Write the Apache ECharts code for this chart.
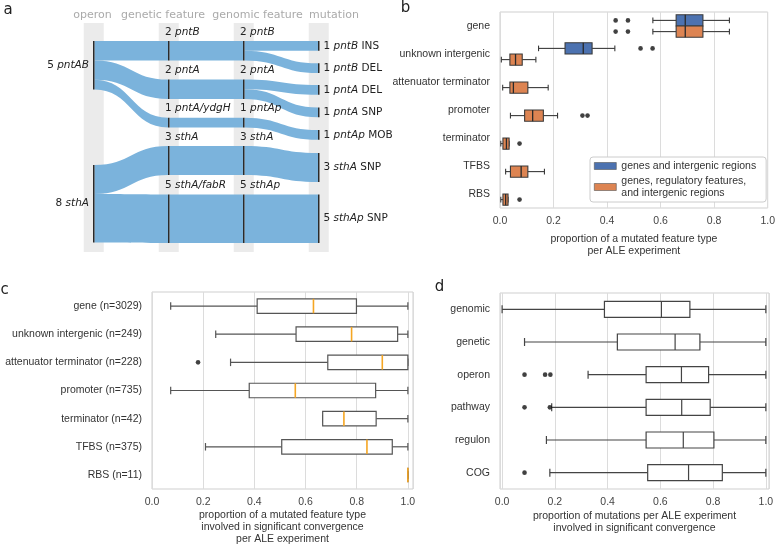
<!DOCTYPE html>
<html><head><meta charset="utf-8">
<script src="https://cdn.jsdelivr.net/npm/echarts@6/dist/echarts.min.js"></script>
<style>html,body{margin:0;padding:0;background:#fff}#main{width:778px;height:551px}</style>
</head><body><div id="main"></div>
<script>
// ================= DATA =================
// Panel a (flow diagram)
const sankeyStages = ['operon', 'genetic feature', 'genomic feature', 'mutation'];
const operonNames = ['pntAB', 'sthA'];
const operonCounts = [5, 8];
const geneticNames = ['pntB', 'pntA', 'pntA/ydgH', 'sthA', 'sthA/fabR'];
const geneticCounts = [2, 2, 1, 3, 5];
const genomicNames = ['pntB', 'pntA', 'pntAp', 'sthA', 'sthAp'];
const genomicCounts = [2, 2, 1, 3, 5];
const mutationGenes = ['pntB', 'pntB', 'pntA', 'pntA', 'pntAp', 'sthA', 'sthAp'];
const mutationTypes = ['INS', 'DEL', 'DEL', 'SNP', 'MOB', 'SNP', 'SNP'];
const mutationCounts = [1, 1, 1, 1, 1, 3, 5];
// links: [sourceIndex, targetIndex, value]
const operonToGenetic = [[0, 0, 2], [0, 1, 2], [0, 2, 1], [1, 3, 3], [1, 4, 5]];
const geneticToGenomic = [[0, 0, 2], [1, 1, 2], [2, 2, 1], [3, 3, 3], [4, 4, 5]];
const genomicToMutation = [[0, 0, 1], [0, 1, 1], [1, 2, 1], [1, 3, 1], [2, 4, 1], [3, 5, 3], [4, 6, 5]];

// Panel b
const bCategories = ['gene', 'unknown intergenic', 'attenuator terminator', 'promoter', 'terminator', 'TFBS', 'RBS'];
const bSeriesNames = ['genes and intergenic regions', 'genes, regulatory features,\nand intergenic regions'];
// [min, q1, median, q3, max]; null = no box
const bBoxesIntergenic = [[0.571, 0.658, 0.692, 0.758, 0.857], [0.144, 0.243, 0.311, 0.344, 0.429], null, null, null, null, null];
const bBoxesRegulatory = [[0.571, 0.658, 0.692, 0.758, 0.857], [0.005, 0.037, 0.058, 0.083, 0.134], [0.010, 0.037, 0.050, 0.104, 0.180],
  [0.039, 0.092, 0.122, 0.162, 0.215], [0.003, 0.011, 0.024, 0.034, 0.034], [0.021, 0.039, 0.079, 0.104, 0.166], [0.003, 0.011, 0.021, 0.030, 0.030]];
// outliers: [value, categoryIndex]
const bOutliersIntergenic = [[0.432, 0], [0.478, 0], [0.525, 1], [0.570, 1]];
const bOutliersRegulatory = [[0.432, 0], [0.478, 0], [0.308, 3], [0.327, 3], [0.073, 4], [0.073, 6]];
const bAxisName = 'proportion of a mutated feature type\nper ALE experiment';

// Panel c
const cCategories = ['gene (n=3029)', 'unknown intergenic (n=249)', 'attenuator terminator (n=228)', 'promoter (n=735)', 'terminator (n=42)', 'TFBS (n=375)', 'RBS (n=11)'];
const cBoxes = [[0.073, 0.411, 0.631, 0.799, 1.0], [0.249, 0.563, 0.780, 0.960, 1.0], [0.307, 0.687, 0.900, 1.0, 1.0],
  [0.073, 0.380, 0.560, 0.874, 1.0], [0.667, 0.667, 0.750, 0.876, 1.0], [0.209, 0.507, 0.840, 0.939, 1.0], [1.0, 1.0, 1.0, 1.0, 1.0]];
const cOutliers = [[0.180, 2]];
const cAxisName = 'proportion of a mutated feature type\ninvolved in significant convergence\nper ALE experiment';

// Panel d
const dCategories = ['genomic', 'genetic', 'operon', 'pathway', 'regulon', 'COG'];
const dBoxes = [[0.0, 0.388, 0.604, 0.712, 1.0], [0.085, 0.437, 0.656, 0.750, 1.0], [0.326, 0.546, 0.680, 0.783, 1.0],
  [0.188, 0.546, 0.681, 0.789, 1.0], [0.168, 0.546, 0.687, 0.803, 1.0], [0.181, 0.552, 0.707, 0.835, 1.0]];
const dOutliers = [[0.085, 2], [0.163, 2], [0.183, 2], [0.085, 3], [0.181, 3], [0.085, 5]];
const dAxisName = 'proportion of mutations per ALE experiment\ninvolved in significant convergence';

const xTickValues = [0, 0.2, 0.4, 0.6, 0.8, 1.0];

// ================= LAYOUT / STYLE =================
const SANS = '"Liberation Sans", Arial, sans-serif';
const DEJA = '"DejaVu Sans", sans-serif';
const BLUE = '#4c72b0', ORANGE = '#dd8452', FLOW = '#7bb3dc';
const SK = { left: 93, top: 41, width: 230, height: 202, nodeW: 1.5 };
const stageX = [0, 75, 150, 225];               // px offsets of the 4 columns
const nodeTop = {                                // px tops of nodes in each column
  0: [41, 165],
  1: [41, 79.5, 117.7, 146, 194.5],
  2: [41, 79.5, 117.7, 146, 194.5],
  3: [41, 63.3, 85, 107.5, 130, 153, 194.5]
};

// ================= BUILD SANKEY =================
const rich = {
  n: { fontFamily: DEJA, fontSize: 10.5, color: '#222' },
  i: { fontFamily: DEJA, fontSize: 10.5, color: '#222', fontStyle: 'italic' }
};
function mkNode(stage, idx, id, text, labelCfg) {
  return {
    name: id,
    localX: stageX[stage] / SK.width,
    localY: (nodeTop[stage][idx] - SK.top) / SK.height,
    label: Object.assign({ formatter: text, rich: rich, fontFamily: DEJA, fontSize: 10.5, color: '#222' }, labelCfg)
  };
}
const skNodes = [];
operonNames.forEach((n, i) => skNodes.push(mkNode(0, i, 'op:' + n, '{n|' + operonCounts[i] + ' }{i|' + n + '}', { position: 'left', distance: 4 })));
geneticNames.forEach((n, i) => skNodes.push(mkNode(1, i, 'ge:' + n, '{n|' + geneticCounts[i] + ' }{i|' + n + '}', { position: [-3, -9], align: 'left', verticalAlign: 'middle' })));
genomicNames.forEach((n, i) => skNodes.push(mkNode(2, i, 'gm:' + n, '{n|' + genomicCounts[i] + ' }{i|' + n + '}', { position: [-3, -9], align: 'left', verticalAlign: 'middle' })));
mutationGenes.forEach((n, i) => skNodes.push(mkNode(3, i, 'mu:' + i, '{n|' + mutationCounts[i] + ' }{i|' + n + '}{n| ' + mutationTypes[i] + '}', { position: 'right', distance: 4 })));
const skLinks = [];
operonToGenetic.forEach(l => skLinks.push({ source: 'op:' + operonNames[l[0]], target: 'ge:' + geneticNames[l[1]], value: l[2] }));
geneticToGenomic.forEach(l => skLinks.push({ source: 'ge:' + geneticNames[l[0]], target: 'gm:' + genomicNames[l[1]], value: l[2] }));
genomicToMutation.forEach(l => skLinks.push({ source: 'gm:' + genomicNames[l[0]], target: 'mu:' + l[1], value: l[2] }));

// ================= BOX RENDERER =================
function boxRenderer(cfg) {
  return function (params, api) {
    const cat = api.value(0);
    const v = [api.value(1), api.value(2), api.value(3), api.value(4), api.value(5)];
    const px = v.map(x => api.coord([x, cat])[0]);
    const yc = api.coord([v[0], cat])[1] + cfg.offset;
    const hb = cfg.boxH / 2, hc = cfg.capH / 2;
    const ls = { stroke: cfg.stroke, lineWidth: cfg.lw };
    return {
      type: 'group',
      children: [
        { type: 'line', shape: { x1: px[0], y1: yc, x2: px[1], y2: yc }, style: ls },
        { type: 'line', shape: { x1: px[3], y1: yc, x2: px[4], y2: yc }, style: ls },
        { type: 'line', shape: { x1: px[0], y1: yc - hc, x2: px[0], y2: yc + hc }, style: ls },
        { type: 'line', shape: { x1: px[4], y1: yc - hc, x2: px[4], y2: yc + hc }, style: ls },
        { type: 'rect', shape: { x: px[1], y: yc - hb, width: px[3] - px[1], height: cfg.boxH }, style: { fill: cfg.fill, stroke: cfg.stroke, lineWidth: cfg.lw } },
        { type: 'line', shape: { x1: px[2], y1: yc - hb, x2: px[2], y2: yc + hb }, style: { stroke: cfg.median, lineWidth: cfg.medianW } }
      ]
    };
  };
}
function boxData(boxes) {
  const out = [];
  boxes.forEach((b, i) => { if (b) out.push([i].concat(b)); });
  return out;
}
function boxSeries(name, gi, boxes, cfg, color) {
  return {
    type: 'custom', name: name, xAxisIndex: gi, yAxisIndex: gi,
    itemStyle: { color: color || '#fff' },
    renderItem: boxRenderer(cfg),
    encode: { x: [1, 2, 3, 4, 5], y: 0 },
    data: boxData(boxes), z: 3, silent: true
  };
}
function outlierSeries(gi, pts, offset) {
  return {
    type: 'scatter', xAxisIndex: gi, yAxisIndex: gi, data: pts,
    symbolSize: 4.6, symbolOffset: [0, offset], itemStyle: { color: '#111' }, z: 4, silent: true
  };
}

function yAxis(gi, cats) {
  return {
    type: 'category', gridIndex: gi, data: cats, inverse: true,
    axisLine: { show: false }, axisTick: { show: false }, splitLine: { show: false },
    axisLabel: { color: '#333', fontSize: 10.5, fontFamily: SANS, margin: 10 }
  };
}
function xAxis(gi, min, max, name, nameGap) {
  return {
    type: 'value', gridIndex: gi, min: min, max: max, splitNumber: 5,
    axisLine: { show: false }, axisTick: { show: false },
    splitLine: { show: true, lineStyle: { color: '#dcdcdc', width: 1 } },
    axisLabel: {
      color: '#444', fontSize: 10.5, fontFamily: SANS, margin: 8,
      formatter: function (val) {
        for (const t of xTickValues) { if (Math.abs(val - t) < 1e-6) return t.toFixed(1); }
        return '';
      }
    },
    name: name, nameLocation: 'middle', nameGap: nameGap,
    nameTextStyle: { color: '#333', fontSize: 10.5, fontFamily: SANS, lineHeight: 12, align: 'center' }
  };
}

const chart = echarts.init(document.getElementById('main'), null, { renderer: 'canvas' });

const graphics = [];
// grey column backgrounds for panel a
stageX.forEach(sx => {
  const cx = SK.left + sx + SK.nodeW / 2;
  graphics.push({ type: 'rect', shape: { x: cx - 10, y: 23, width: 20, height: 229 }, style: { fill: '#ebebeb' }, z: 0, silent: true });
});
const headerX = [92.5, 163, 257.5, 334];
sankeyStages.forEach((s, i) => graphics.push({
  type: 'text', x: headerX[i], y: 15, z: 5, silent: true,
  style: { text: s, fill: '#aaaaaa', font: '11px ' + DEJA, textAlign: 'center', textVerticalAlign: 'middle' }
}));
[['a', 8, 10], ['b', 405.5, 8.5], ['c', 4.5, 290], ['d', 439.5, 287]].forEach(p => graphics.push({
  type: 'text', x: p[1], y: p[2], z: 5, silent: true,
  style: { text: p[0], fill: '#222', font: '15px ' + DEJA, textAlign: 'center', textVerticalAlign: 'middle' }
}));

const option = {
  animation: false,
  backgroundColor: '#fff',
  graphic: graphics,
  grid: [
    { left: 500, top: 12, width: 270, height: 196, show: true, borderColor: '#cfcfcf', borderWidth: 1, containLabel: false },
    { left: 152, top: 292, width: 261, height: 197, show: true, borderColor: '#cfcfcf', borderWidth: 1, containLabel: false },
    { left: 500, top: 293, width: 269, height: 196, show: true, borderColor: '#cfcfcf', borderWidth: 1, containLabel: false }
  ],
  xAxis: [
    Object.assign(xAxis(0, 0, 1, bAxisName, 25), { interval: 0.2 }),
    Object.assign(xAxis(1, 0, 1.02, cAxisName, 20), { interval: 0.2 }),
    xAxis(2, -0.008, 1.012, dAxisName, 21)
  ],
  yAxis: [yAxis(0, bCategories), yAxis(1, cCategories), yAxis(2, dCategories)],
  legend: {
    left: 590, top: 157, orient: 'vertical', selectedMode: false,
    backgroundColor: '#fff', borderColor: '#cccccc', borderWidth: 1, borderRadius: 3,
    padding: [3, 10, 3, 4], itemGap: 3, itemWidth: 22, itemHeight: 7,
    textStyle: { color: '#333', fontSize: 10.5, fontFamily: SANS, lineHeight: 12 },
    data: [
      { name: bSeriesNames[0], icon: 'rect', itemStyle: { color: BLUE, borderColor: '#555', borderWidth: 0.6 } },
      { name: bSeriesNames[1], icon: 'rect', itemStyle: { color: ORANGE, borderColor: '#555', borderWidth: 0.6 } }
    ]
  },
  series: [
    {
      type: 'sankey', left: SK.left, top: SK.top, width: SK.width, height: SK.height,
      nodeWidth: SK.nodeW, nodeGap: (SK.height - 9.69 * 13) / 6, layoutIterations: 0, draggable: false,
      silent: true, emphasis: { disabled: true },
      data: skNodes, links: skLinks,
      itemStyle: { color: '#2a2a2a', borderWidth: 0 },
      lineStyle: { color: FLOW, opacity: 1, curveness: 0.5 },
      z: 2
    },
    boxSeries(bSeriesNames[0], 0, bBoxesIntergenic, { offset: -5.6, boxH: 11.2, capH: 5.6, stroke: '#3a3a3a', lw: 1.1, fill: BLUE, median: '#2a2a2a', medianW: 1.3 }, BLUE),
    boxSeries(bSeriesNames[1], 0, bBoxesRegulatory, { offset: 5.6, boxH: 11.2, capH: 5.6, stroke: '#3a3a3a', lw: 1.1, fill: ORANGE, median: '#2a2a2a', medianW: 1.3 }, ORANGE),
    outlierSeries(0, bOutliersIntergenic, -5.6),
    outlierSeries(0, bOutliersRegulatory, 5.6),
    boxSeries('c-box', 1, cBoxes, { offset: 0, boxH: 14.5, capH: 7.5, stroke: '#555', lw: 1.2, fill: '#fff', median: '#f5a623', medianW: 1.6 }),
    outlierSeries(1, cOutliers, 0),
    boxSeries('d-box', 2, dBoxes, { offset: 0, boxH: 16, capH: 8, stroke: '#444', lw: 1.2, fill: '#fff', median: '#444', medianW: 1.2 }),
    outlierSeries(2, dOutliers, 0)
  ]
};
chart.setOption(option);
</script></body></html>
